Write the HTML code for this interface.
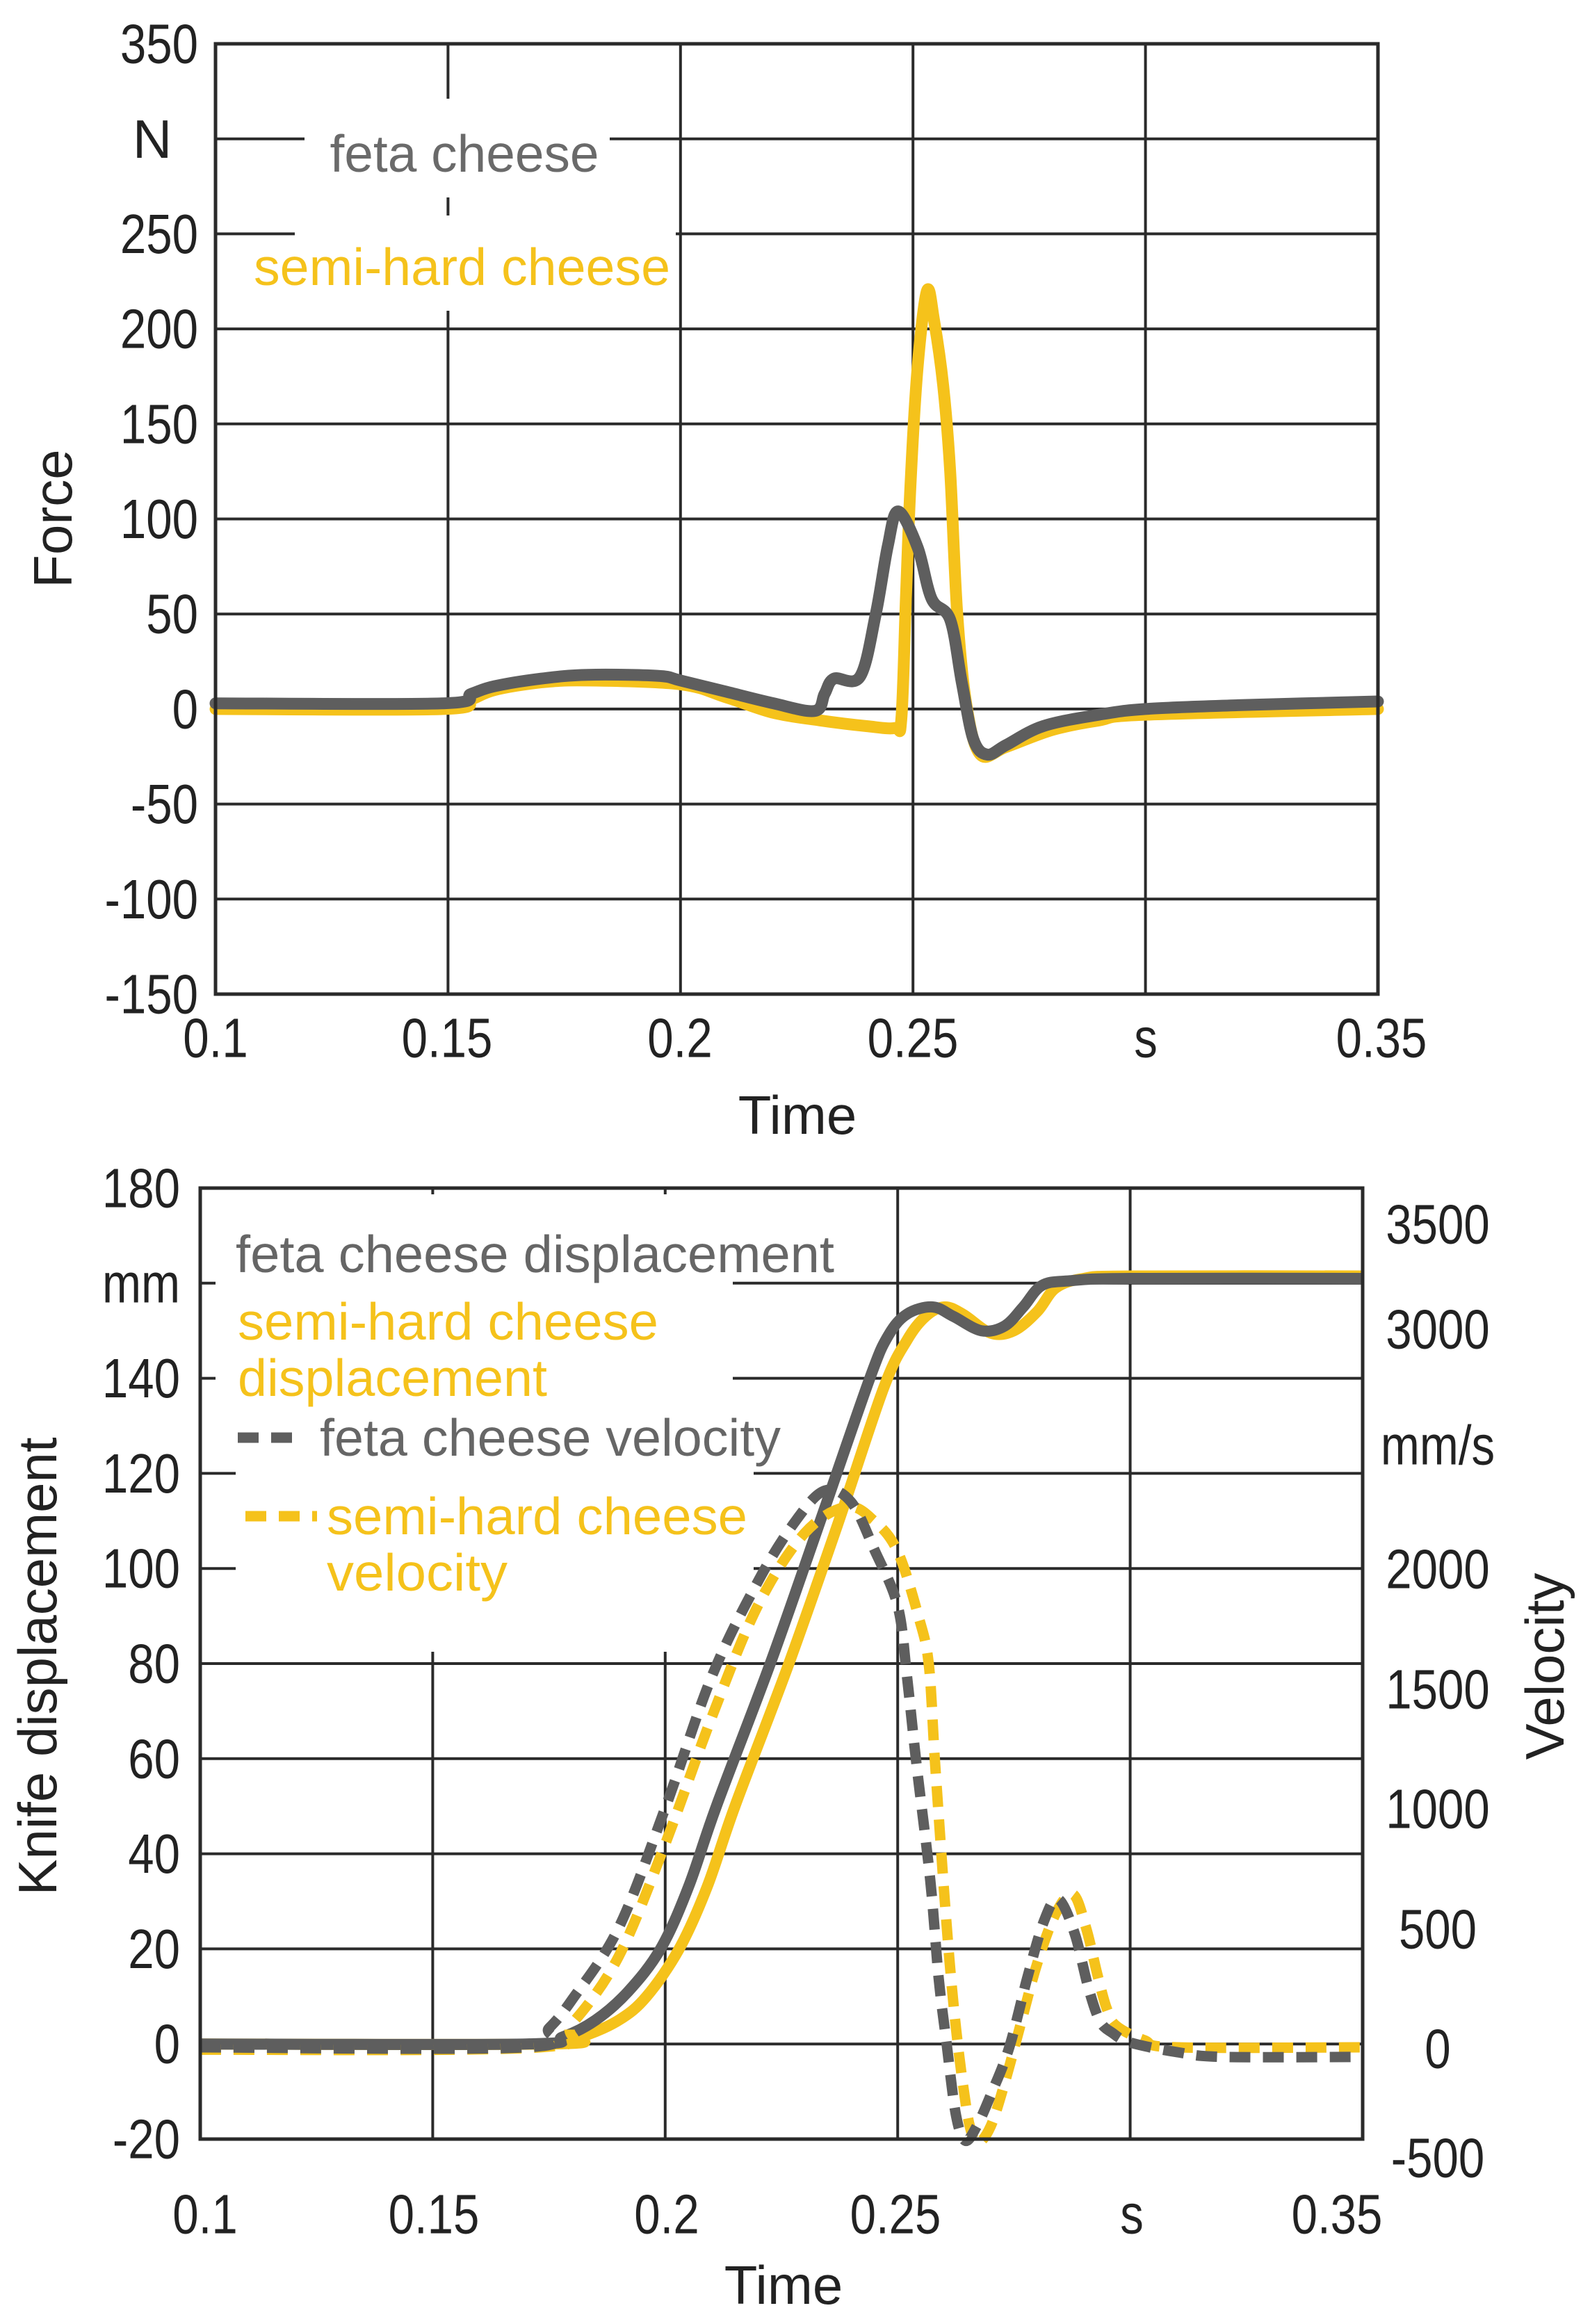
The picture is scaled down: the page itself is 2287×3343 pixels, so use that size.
<!DOCTYPE html>
<html><head><meta charset="utf-8"><style>
html,body{margin:0;padding:0;background:#fff;}
svg{display:block;}
text{font-family:"Liberation Sans",sans-serif;fill:#222;}
</style></head><body>
<svg id="s" width="2287" height="3343" viewBox="0 0 2287 3343" xmlns="http://www.w3.org/2000/svg">
<rect width="2287" height="3343" fill="#fff"/>
<g id="grid1" stroke="#2a2a2a" stroke-width="4" fill="none"></g>
<g id="mask1" fill="#fff">
<rect x="438" y="142" width="439" height="142"/>
<rect x="424" y="310" width="548" height="137"/>
</g>
<g id="ser1" fill="none" stroke-linejoin="round" stroke-linecap="round"></g>
<rect x="310" y="63" width="1672" height="1367" fill="none" stroke="#2a2a2a" stroke-width="5"/>
<text x="668" y="221" font-size="75" text-anchor="middle" dominant-baseline="central" style="fill:#6a6a6a" textLength="387" lengthAdjust="spacingAndGlyphs">feta cheese</text>
<text x="365" y="384" font-size="75" dominant-baseline="central" style="fill:#f5c21b" textLength="599" lengthAdjust="spacingAndGlyphs">semi-hard cheese</text>
<g id="lab1" font-size="80"></g>
<text x="219" y="200" font-size="78" text-anchor="middle" dominant-baseline="central">N</text>
<text x="1147" y="1604" font-size="78" text-anchor="middle" dominant-baseline="central">Time</text>
<text transform="translate(76,746) rotate(-90)" font-size="78" text-anchor="middle" dominant-baseline="central">Force</text>

<g id="grid2" stroke="#2a2a2a" stroke-width="4" fill="none"></g>
<g fill="#fff">
<rect x="310" y="1718" width="898" height="124"/>
<rect x="310" y="1842" width="744" height="172"/>
<rect x="332" y="2014" width="803" height="92"/>
<rect x="339" y="2106" width="745" height="194"/>
<rect x="405" y="2300" width="679" height="76"/>
</g>
<g id="ser2" fill="none" stroke-linejoin="round"></g>
<rect x="288" y="1709" width="1672" height="1368" fill="none" stroke="#2a2a2a" stroke-width="5"/>
<g font-size="75" dominant-baseline="central">
<text x="339" y="1804" style="fill:#666" textLength="861" lengthAdjust="spacingAndGlyphs">feta cheese displacement</text>
<text x="342" y="1901" style="fill:#f5c21b" textLength="605" lengthAdjust="spacingAndGlyphs">semi-hard cheese</text>
<text x="342" y="1982" style="fill:#f5c21b" textLength="445" lengthAdjust="spacingAndGlyphs">displacement</text>
<text x="460" y="2068" style="fill:#666" textLength="663" lengthAdjust="spacingAndGlyphs">feta cheese velocity</text>
<text x="470" y="2181" style="fill:#f5c21b" textLength="605" lengthAdjust="spacingAndGlyphs">semi-hard cheese</text>
<text x="470" y="2262" style="fill:#f5c21b" textLength="260" lengthAdjust="spacingAndGlyphs">velocity</text>
</g>
<line x1="342" y1="2068" x2="434" y2="2068" stroke="#5e5e5e" stroke-width="15" stroke-dasharray="30 18"/>
<line x1="353" y1="2181" x2="456" y2="2181" stroke="#f5c21b" stroke-width="15" stroke-dasharray="30 18"/>
<g id="lab2" font-size="80"></g>
<text x="1127" y="3287" font-size="78" text-anchor="middle" dominant-baseline="central">Time</text>
<text transform="translate(54,2397) rotate(-90)" font-size="78" text-anchor="middle" dominant-baseline="central">Knife displacement</text>
<text transform="translate(2222,2397) rotate(-90)" font-size="78" text-anchor="middle" dominant-baseline="central">Velocity</text>
</svg>
<script>
var NS="http://www.w3.org/2000/svg";
function el(p,n,a,t){var e=document.createElementNS(NS,n);for(var k in a)e.setAttribute(k,a[k]);if(t!=null)e.textContent=t;document.getElementById(p).appendChild(e);return e;}
function cond(e){try{var w=e.getComputedTextLength();if(w>0){e.setAttribute("textLength",(w*0.84).toFixed(1));e.setAttribute("lengthAdjust","spacingAndGlyphs");}}catch(x){}}
function path(pts){var d="M"+pts[0][0].toFixed(1)+","+pts[0][1].toFixed(1);
for(var i=0;i<pts.length-1;i++){var p0=pts[i-1]||pts[i],p1=pts[i],p2=pts[i+1],p3=pts[i+2]||p2;
var c1=[p1[0]+(p2[0]-p0[0])/6,p1[1]+(p2[1]-p0[1])/6],c2=[p2[0]-(p3[0]-p1[0])/6,p2[1]-(p3[1]-p1[1])/6];
d+="C"+c1[0].toFixed(1)+","+c1[1].toFixed(1)+" "+c2[0].toFixed(1)+","+c2[1].toFixed(1)+" "+p2[0].toFixed(1)+","+p2[1].toFixed(1);}
return d;}
var X1=function(t){return 310+(t-0.1)*6688},Y1=function(f){return 63+(350-f)*2.734};
for(var v=300;v>=-100;v-=50)el("grid1","line",{x1:310,x2:1982,y1:Y1(v),y2:Y1(v)});
[0.15,0.2,0.25,0.3].forEach(function(t){el("grid1","line",{x1:X1(t),x2:X1(t),y1:63,y2:1430})});
[350,250,200,150,100,50,0,-50,-100,-150].forEach(function(v){cond(el("lab1","text",{x:285,y:Y1(v),"text-anchor":"end","dominant-baseline":"central"},String(v)))});
[["0.1",310],["0.15",643],["0.2",978],["0.25",1313],["s",1648],["0.35",1987]].forEach(function(a){cond(el("lab1","text",{x:a[1],y:1493,"text-anchor":"middle","dominant-baseline":"central"},a[0]))});
var yel1=[[0.1,0],[0.149,0],[0.155,5],[0.16,10],[0.17,14],[0.18,15],[0.2,13],[0.21,6],[0.22,-2],[0.23,-6],[0.24,-9],[0.2461,-10],[0.2475,-5],[0.2485,60],[0.2495,120],[0.251,180],[0.253,220],[0.2545,205],[0.2565,170],[0.258,125],[0.2595,51],[0.2615,2],[0.2645,-24],[0.27,-20],[0.28,-11],[0.29,-6],[0.3,-3],[0.35,0]];
var gry1=[[0.1,3],[0.149,3],[0.155,8],[0.16,12],[0.17,16],[0.18,18],[0.195,17.5],[0.2,15],[0.21,9],[0.22,3],[0.2289,-1],[0.231,8],[0.233,16],[0.2386,17],[0.242,50],[0.2446,86],[0.2468,104],[0.251,85],[0.254,58],[0.258,47],[0.2605,14],[0.263,-16],[0.266,-24],[0.27,-19],[0.278,-9],[0.29,-3],[0.3,0],[0.32,2],[0.35,4]];
function lin(d,X,Y){return d.map(function(p){return [X(p[0]),Y(p[1])]});}
el("ser1","path",{d:path(lin(yel1,X1,Y1)),stroke:"#f5c21b","stroke-width":17});
el("ser1","path",{d:path(lin(gry1,X1,Y1)),stroke:"#5e5e5e","stroke-width":17});
var X2=function(t){return 288+(t-0.1)*6688},Y2=function(d){return 1709+(180-d)*6.84},V2=function(v){return 2945-v*0.344};
for(var d=160;d>=0;d-=20)el("grid2","line",{x1:288,x2:1960,y1:Y2(d),y2:Y2(d)});
[0.15,0.2,0.25,0.3].forEach(function(t){el("grid2","line",{x1:X2(t),x2:X2(t),y1:1709,y2:3077})});
[180,140,120,100,80,60,40,20,0,-20].forEach(function(v){cond(el("lab2","text",{x:259,y:Y2(v),"text-anchor":"end","dominant-baseline":"central"},String(v)))});
cond(el("lab2","text",{x:259,y:Y2(160),"text-anchor":"end","dominant-baseline":"central"},"mm"));
[["3500",1761],["3000",1912],["mm/s",2079],["2000",2257],["1500",2430],["1000",2602],["500",2775],["0",2947],["-500",3104]].forEach(function(a){cond(el("lab2","text",{x:2068,y:a[1],"text-anchor":"middle","dominant-baseline":"central"},a[0]))});
[["0.1",295],["0.15",624],["0.2",959],["0.25",1288],["s",1628],["0.35",1923]].forEach(function(a){cond(el("lab2","text",{x:a[1],y:3185,"text-anchor":"middle","dominant-baseline":"central"},a[0]))});
var gd=[[0.1,0],[0.17,0],[0.178,1.5],[0.185,5],[0.192,11],[0.199,20],[0.205,33],[0.211,50],[0.2226,80],[0.233,109],[0.244,140],[0.248,149],[0.252,153.5],[0.2575,155],[0.262,153],[0.268,150],[0.273,151],[0.277,155],[0.281,159.5],[0.287,160.5],[0.3,161],[0.35,161]];
var yd=[[0.1,0],[0.175,0],[0.182,1.5],[0.19,5],[0.196,10],[0.203,20],[0.209,33],[0.215,50],[0.2266,80],[0.237,109],[0.247,138],[0.252,148],[0.256,153],[0.26,155],[0.264,153.5],[0.27,149.5],[0.275,150],[0.28,154],[0.284,159],[0.29,161],[0.3,161.5],[0.35,161.5]];
var gv=[[0.1,0],[0.17,0],[0.175,80],[0.18,200],[0.19,500],[0.2,1000],[0.21,1550],[0.22,1950],[0.228,2200],[0.2343,2328],[0.24,2280],[0.245,2080],[0.25,1846],[0.252,1550],[0.254,1190],[0.257,700],[0.2588,290],[0.2605,20],[0.2625,-280],[0.2645,-390],[0.267,-330],[0.27,-200],[0.274,0],[0.278,300],[0.2815,530],[0.2845,620],[0.288,480],[0.291,250],[0.2935,110],[0.2962,60],[0.3,20],[0.31,-20],[0.32,-40],[0.35,-40]];
var yv=[[0.1,-10],[0.173,0],[0.18,100],[0.19,380],[0.2,850],[0.21,1380],[0.22,1850],[0.23,2150],[0.239,2260],[0.245,2200],[0.25,2073],[0.2545,1800],[0.2567,1600],[0.258,1200],[0.2598,700],[0.2612,350],[0.2625,87],[0.264,-150],[0.2655,-330],[0.2672,-400],[0.27,-330],[0.273,-150],[0.2765,100],[0.28,350],[0.284,560],[0.2877,640],[0.2905,500],[0.293,300],[0.295,160],[0.297,90],[0.303,30],[0.31,0],[0.35,0]];
el("ser2","path",{d:path(lin(yd,X2,Y2)),stroke:"#f5c21b","stroke-width":16});
el("ser2","path",{d:path(lin(gd,X2,Y2)),stroke:"#5e5e5e","stroke-width":16});
el("ser2","path",{d:path(lin(yv,X2,V2)),stroke:"#f5c21b","stroke-width":15,"stroke-dasharray":"30 18"});
el("ser2","path",{d:path(lin(gv,X2,V2)),stroke:"#5e5e5e","stroke-width":15,"stroke-dasharray":"30 18"});
</script>
</body></html>
